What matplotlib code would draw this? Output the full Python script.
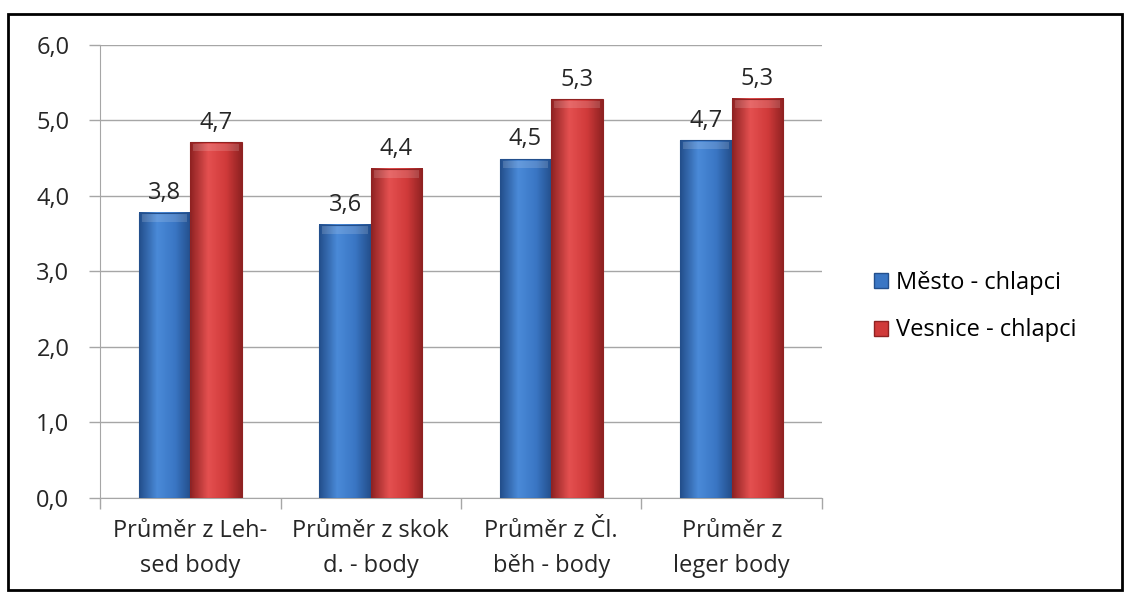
import numpy as np
import matplotlib
matplotlib.use('Agg')
import matplotlib.pyplot as plt
from matplotlib.colors import LinearSegmentedColormap
from matplotlib.patches import Rectangle

####################################################################################

CATEGORIES = ['Průměr z Leh-\nsed body', 'Průměr z skok\nd. - body',
              'Průměr z Čl.\nběh - body', 'Průměr z\nleger body']
MESTO = [3.78, 3.62, 4.49, 4.74]
VESNICE = [4.71, 4.36, 5.28, 5.29]
SERIES_NAMES = ['Město - chlapci', 'Vesnice - chlapci']
Y_TICKS = [0, 1, 2, 3, 4, 5, 6]

FIGURE_XSIZE = 11.28
FIGURE_YSIZE = 5.92
FONT = 'Open Sans'
FONT_SIZE = 17
TEXT_RGB = '#262626'
GRID_RGB = '#a6a6a6'
BAR_WIDTH = 0.285

BLUE = ['#234f8c', '#4a8ad8', '#3a76c4', '#234f8c']
RED = ['#8f2222', '#e45050', '#d03a3a', '#8f2222']

####################################################################################

def bevel_bar(axes, x, height, width, colors):
    # horizontal gradient: dark edges, light centre
    cmap = LinearSegmentedColormap.from_list('bar', list(zip([0.0, 0.35, 0.7, 1.0], colors)))
    grad = np.linspace(0, 1, 64).reshape(1, -1)
    axes.imshow(grad, cmap=cmap, aspect='auto', interpolation='bilinear',
                extent=(x, x + width, 0, height), zorder=3)
    # lighter cap on top of the bar
    axes.add_patch(Rectangle((x + width * 0.06, height - 0.12), width * 0.88, 0.10,
                             facecolor='white', alpha=0.15, linewidth=0, zorder=4))
    axes.add_patch(Rectangle((x, 0), width, height, facecolor='none',
                             edgecolor=colors[0], linewidth=0.8, zorder=5))

def fmt(v):
    return ('%.1f' % v).replace('.', ',')

####################################################################################

plt.rcParams['font.family'] = [FONT, 'DejaVu Sans']
figure = plt.figure(figsize=(FIGURE_XSIZE, FIGURE_YSIZE), dpi=100, facecolor='white')
axes = figure.add_axes([0.0887, 0.1588, 0.64, 0.7652])

x = np.arange(len(CATEGORIES))
for i in x:
    bevel_bar(axes, i - BAR_WIDTH, MESTO[i], BAR_WIDTH, BLUE)
    bevel_bar(axes, i, VESNICE[i], BAR_WIDTH, RED)
    axes.text(i - BAR_WIDTH / 2, MESTO[i] + 0.1, fmt(MESTO[i]), ha='center', va='bottom',
              fontsize=FONT_SIZE, color=TEXT_RGB, zorder=6)
    axes.text(i + BAR_WIDTH / 2, VESNICE[i] + 0.1, fmt(VESNICE[i]), ha='center', va='bottom',
              fontsize=FONT_SIZE, color=TEXT_RGB, zorder=6)

axes.set_xlim(-0.5, len(CATEGORIES) - 0.5)
axes.set_ylim(0, 6)
axes.set_yticks(Y_TICKS)
axes.set_yticklabels([fmt(v) for v in Y_TICKS], fontsize=FONT_SIZE, color=TEXT_RGB)
axes.set_xticks(np.arange(len(CATEGORIES) + 1) - 0.5)
axes.set_xticklabels([])
axes.set_xticks(x, minor=True)
axes.set_xticklabels(CATEGORIES, minor=True, fontsize=FONT_SIZE, color=TEXT_RGB,
                     linespacing=1.6)
axes.tick_params(axis='x', which='minor', length=0, pad=15)
axes.tick_params(axis='x', which='major', length=8, color=GRID_RGB, width=1)
axes.tick_params(axis='y', length=8, color=GRID_RGB, width=1, pad=14)

axes.grid(axis='y', color=GRID_RGB, linewidth=1, zorder=0)
axes.set_axisbelow(True)
for side in ['top', 'right']:
    axes.spines[side].set_visible(False)
for side in ['left', 'bottom']:
    axes.spines[side].set_color(GRID_RGB)

# legend with bevelled squares
legend_handles = [Rectangle((0, 0), 1, 1, facecolor=BLUE[2], edgecolor=BLUE[0]),
                  Rectangle((0, 0), 1, 1, facecolor=RED[2], edgecolor=RED[0])]
figure.legend(legend_handles, SERIES_NAMES, loc='center left', bbox_to_anchor=(0.764, 0.482),
              frameon=False, fontsize=FONT_SIZE, handlelength=0.6, handleheight=0.6,
              handletextpad=0.35, labelspacing=1.0, borderpad=0)

# chart frame
figure.add_artist(Rectangle((0.007, 0.003), 0.988, 0.973, transform=figure.transFigure,
                            facecolor='none', edgecolor='black', linewidth=2))

plt.savefig('out.png', dpi=100)
